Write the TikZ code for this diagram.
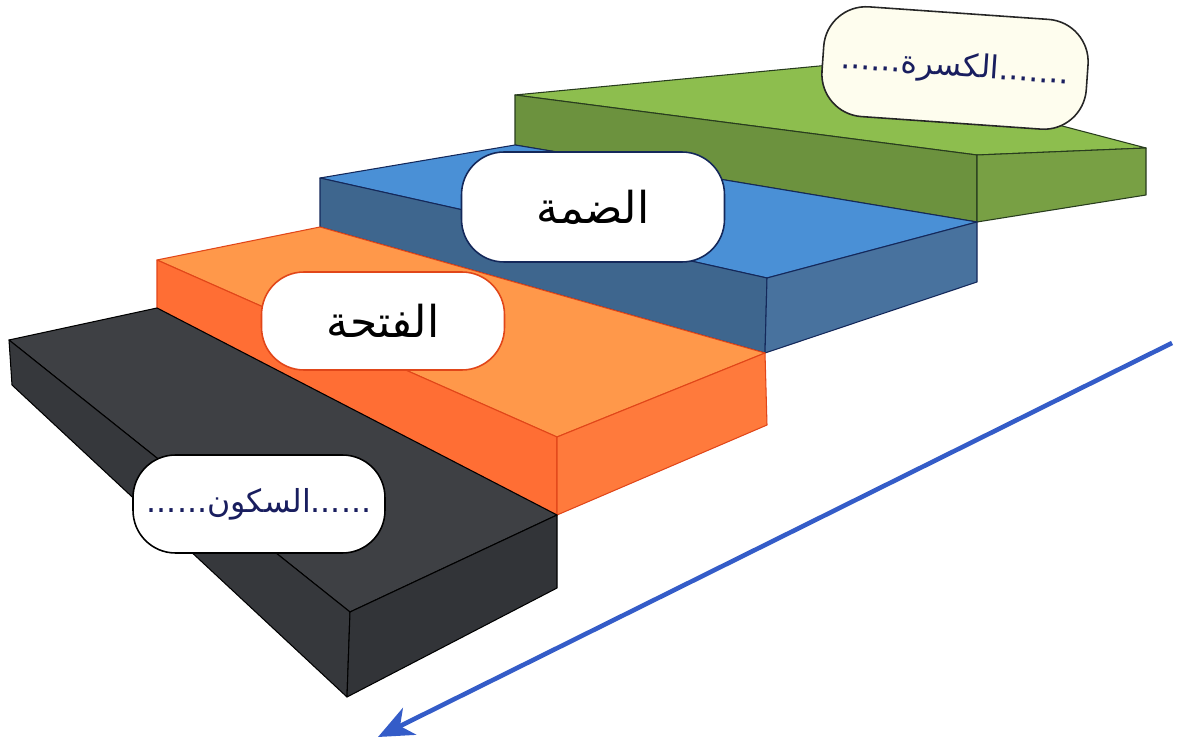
\documentclass[tikz,border=0pt]{standalone}
\usepackage{fontspec}
\usetikzlibrary{arrows.meta}
\newfontfamily\arabicfont[Script=Arabic]{DejaVu Sans}
\TeXXeTstate=1
\definecolor{greentop}{RGB}{141,190,78}
\definecolor{greenfront}{RGB}{108,146,62}
\definecolor{greenend}{RGB}{120,160,68}
\definecolor{greenline}{RGB}{40,60,30}
\definecolor{bluetop}{RGB}{74,144,214}
\definecolor{bluefront}{RGB}{62,102,142}
\definecolor{blueend}{RGB}{72,114,158}
\definecolor{blueline}{RGB}{20,40,90}
\definecolor{orangetop}{RGB}{255,152,74}
\definecolor{orangefront}{RGB}{255,110,52}
\definecolor{orangeend}{RGB}{255,122,60}
\definecolor{orangeline}{RGB}{225,70,25}
\definecolor{blacktop}{RGB}{62,64,68}
\definecolor{blackfront}{RGB}{54,56,60}
\definecolor{blackend}{RGB}{50,52,56}
\definecolor{ink}{RGB}{25,30,95}
\definecolor{arrowblue}{RGB}{52,92,200}
\definecolor{cream}{RGB}{254,253,238}

\begin{document}
\begin{tikzpicture}[x=0.02cm,y=-0.02cm,
    face/.style={line width=0.6pt,line join=round},
    tag/.style={draw,rounded corners=0.85cm,fill=white,line width=0.9pt,
      inner sep=0pt,font=\arabicfont\fontsize{25}{28}\selectfont},
    written/.style={tag,text=ink,font=\arabicfont\fontsize{18}{22}\selectfont}]

    % Frame
    \fill[white] (0,0) rectangle (1189,742);

    % Green step
    \filldraw[face,fill=greentop,draw=greenline] (515,95) -- (830,65) -- (1146,148) -- (977,155) -- cycle;
    \filldraw[face,fill=greenfront,draw=greenline] (515,95) -- (515,145) -- (977,222) -- (977,155) -- cycle;
    \filldraw[face,fill=greenend,draw=greenline] (977,155) -- (977,222) -- (1146,195) -- (1146,148) -- cycle;

    % Blue step
    \filldraw[face,fill=bluetop,draw=blueline] (320,178) -- (515,145) -- (977,222) -- (767,278) -- cycle;
    \filldraw[face,fill=bluefront,draw=blueline] (320,178) -- (320,227) -- (765,353) -- (767,278) -- cycle;
    \filldraw[face,fill=blueend,draw=blueline] (767,278) -- (765,353) -- (977,282) -- (977,222) -- cycle;

    % Orange step
    \filldraw[face,fill=orangetop,draw=orangeline] (157,260) -- (320,227) -- (765,353) -- (557,437) -- cycle;
    \filldraw[face,fill=orangefront,draw=orangeline] (157,260) -- (157,308) -- (557,515) -- (557,437) -- cycle;
    \filldraw[face,fill=orangeend,draw=orangeline] (557,437) -- (557,515) -- (767,425) -- (765,353) -- cycle;

    % Black step
    \filldraw[face,fill=blacktop,draw=black] (9,340) -- (157,308) -- (557,515) -- (350,612) -- cycle;
    \filldraw[face,fill=blackfront,draw=black] (9,340) -- (12,385) -- (347,697) -- (350,612) -- cycle;
    \filldraw[face,fill=blackend,draw=black] (350,612) -- (347,697) -- (557,588) -- (557,515) -- cycle;

    % Labels
    \node[written,draw=black!85,fill=cream,minimum width=5.3cm,minimum height=2.2cm,rotate=-4] (kasra) at (955,68)
      {\beginR .......الكسرة......\endR};
    \node[tag,draw=blueline,minimum width=5.26cm,minimum height=2.2cm] (damma) at (593,207) {\beginR الضمة\endR};
    \node[tag,draw=orangeline,minimum width=4.86cm,minimum height=1.96cm] (fatha) at (383,321) {\beginR الفتحة\endR};
    \node[written,draw=black,minimum width=5.04cm,minimum height=1.96cm] (sukun) at (259,504)
      {\beginR ......السكون......\endR};

    % Arrow
    \coordinate (tail) at (1172,343);
    \coordinate (head) at (378,737);
    \draw[arrowblue,line width=2.6pt,-{Stealth[length=20pt,width=17pt,inset=6pt]}] (tail) -- (head);

\end{tikzpicture}
\end{document}
